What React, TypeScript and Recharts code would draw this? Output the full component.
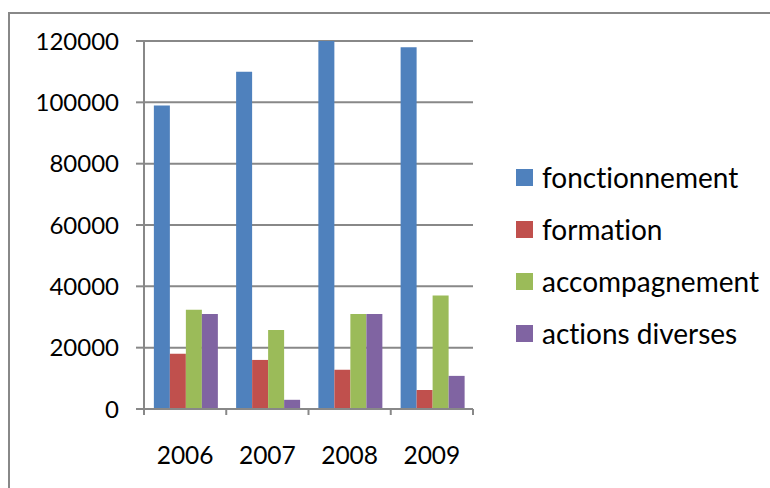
import { BarChart, Bar, XAxis, YAxis, CartesianGrid } from 'recharts';

const years = ['2006', '2007', '2008', '2009'];
const fonctionnement = [99000, 110000, 120000, 118000];
const formation = [18000, 16000, 12800, 6200];
const accompagnement = [32400, 25800, 31000, 37000];
const actionsDiverses = [31000, 3000, 31000, 10800];
const yTicks = [0, 20000, 40000, 60000, 80000, 100000, 120000];

const series = [
  { key: 'fonctionnement', name: 'fonctionnement', color: '#4F81BD', values: fonctionnement },
  { key: 'formation', name: 'formation', color: '#C0504D', values: formation },
  { key: 'accompagnement', name: 'accompagnement', color: '#9BBB59', values: accompagnement },
  { key: 'actions', name: 'actions diverses', color: '#8064A2', values: actionsDiverses },
];

const data = years.map((year, i) => {
  const row: Record<string, string | number> = { year };
  series.forEach((s) => {
    row[s.key] = s.values[i];
  });
  return row;
});

const GRAY = '#888888';
const FONT = 'Lato, "Open Sans", sans-serif';

// category label plus Excel-style tick marks on the category boundaries
const YearTick = (props: any) => {
  const { x, y, payload, index, visibleTicksCount, width } = props;
  const half = payload?.offset ?? width / visibleTicksCount / 2;
  const isLast = index === visibleTicksCount - 1;
  return (
    <g>
      <line x1={x - half} x2={x - half} y1={y} y2={y + 6} stroke={GRAY} strokeWidth={2} />
      {isLast && <line x1={x + half} x2={x + half} y1={y} y2={y + 6} stroke={GRAY} strokeWidth={2} />}
      <text x={x} y={y + 55} textAnchor="middle" fill="#000" fontSize={24.5} fontFamily={FONT}>
        {payload.value}
      </text>
    </g>
  );
};

export default function App() {
  return (
    <div
      style={{
        position: 'absolute',
        left: 0,
        top: 0,
        width: 770,
        height: 488,
        background: '#fff',
        overflow: 'hidden',
        fontFamily: FONT,
        fontVariantLigatures: 'none',
      }}
    >
      <div
        style={{
          position: 'absolute',
          left: 8,
          top: 12,
          width: 800,
          height: 520,
          borderTop: `2px solid ${GRAY}`,
          borderLeft: `2px solid ${GRAY}`,
        }}
      />
      <div style={{ position: 'absolute', left: 0, top: 0 }}>
        <BarChart
          width={770}
          height={488}
          data={data}
          margin={{ top: 41, right: 297, bottom: 19, left: 0 }}
          barCategoryGap="12%"
          barGap={0}
        >
          <CartesianGrid vertical={false} stroke={GRAY} strokeWidth={2} />
          <XAxis
            dataKey="year"
            height={60}
            tickLine={false}
            tickSize={0}
            tickMargin={0}
            axisLine={{ stroke: GRAY, strokeWidth: 2 }}
            tick={<YearTick />}
            interval={0}
          />
          <YAxis
            width={144}
            domain={[0, 120000]}
            ticks={yTicks}
            interval={0}
            tickSize={8}
            tickMargin={17}
            tickLine={{ stroke: GRAY, strokeWidth: 2 }}
            axisLine={{ stroke: GRAY, strokeWidth: 2 }}
            tick={{ fill: '#000', fontSize: 24, fontFamily: FONT }}
          />
          {series.map((s) => (
            <Bar key={s.key} dataKey={s.key} name={s.name} fill={s.color} isAnimationActive={false} />
          ))}
        </BarChart>
      </div>
      <div style={{ position: 'absolute', left: 516, top: 151 }}>
        {series.map((s) => (
          <div key={s.key} style={{ display: 'flex', alignItems: 'center', height: 52 }}>
            <div style={{ width: 17, height: 17, background: s.color, marginRight: 9 }} />
            <span style={{ fontSize: 28, color: '#000', lineHeight: '30px', whiteSpace: 'nowrap' }}>{s.name}</span>
          </div>
        ))}
      </div>
    </div>
  );
}
